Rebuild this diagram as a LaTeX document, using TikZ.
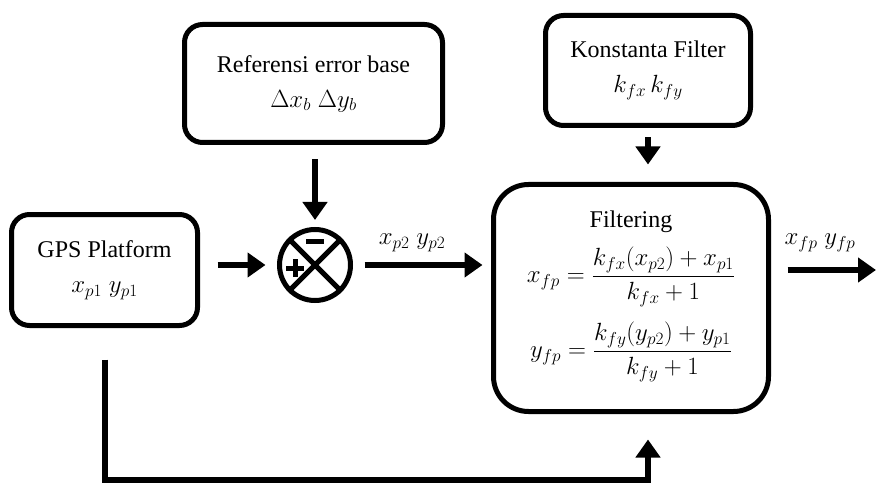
\documentclass[tikz,border=0pt]{standalone}
\usepackage{fontspec}
\setmainfont{Liberation Serif}
\usetikzlibrary{arrows.meta,calc}
\begin{document}
\begin{tikzpicture}[x=1pt,y=-1pt,
  box/.style={draw,line width=5pt,rounded corners=18pt,align=center,font=\fontsize{24}{35}\selectfont,inner sep=0pt},
  arr/.style={line width=6pt,-{Triangle[length=18pt,width=24pt]}},
  lbl/.style={font=\fontsize{24}{28}\selectfont,inner sep=0pt},
  signline/.style={line width=5pt}]
\useasboundingbox[fill=white] (0,0) rectangle (876,484);

\node[box,minimum width=186pt,minimum height=111pt] (gps) at (104.5,270) {GPS Platform\\$x_{p1}\;y_{p1}$};
\node[box,minimum width=258pt,minimum height=118pt] (ref) at (313.5,83.5) {Referensi error base\\$\Delta x_{b}\;\Delta y_{b}$};
\node[box,minimum width=205pt,minimum height=110pt] (kon) at (648,70.5) {Konstanta Filter\\$k_{fx}\,k_{fy}$};
\node[box,rounded corners=35pt,minimum width=275pt,minimum height=227pt] (filt) at (631,298) {};
\node[lbl] (ftitle) at (631,222) {Filtering};
\node[lbl] (eqx) at (631,277) {$\displaystyle x_{fp}=\frac{k_{fx}(x_{p2})+x_{p1}}{k_{fx}+1}$};
\node[lbl] (eqy) at (631,352) {$\displaystyle y_{fp}=\frac{k_{fy}(y_{p2})+y_{p1}}{k_{fy}+1}$};

\node[draw,circle,line width=5pt,minimum size=71pt,inner sep=0pt] (sum) at (315,265) {};
\draw[signline] (sum.north west) -- (sum.south east);
\draw[signline] (sum.north east) -- (sum.south west);
\draw[signline] ($(sum.center)+(-9,-24)$) -- ($(sum.center)+(9,-24)$);
\draw[signline] ($(sum.center)+(-29,3)$) -- ($(sum.center)+(-11,3)$);
\draw[signline] ($(sum.center)+(-20,-6)$) -- ($(sum.center)+(-20,12)$);

\node[lbl] (lp2) at (412,243) {$x_{p2}\;y_{p2}$};
\node[lbl] (lfp) at (820,243) {$x_{fp}\;y_{fp}$};

\draw[arr,shorten <=17.5pt,shorten >=11.5pt] (gps.east |- sum.west) -- (sum.west);
\draw[arr,shorten <=14.5pt,shorten >=7pt] (sum.north |- ref.south) -- (sum.north);
\draw[arr,shorten <=11.5pt,shorten >=8.5pt] (sum.east) -- (sum.east -| filt.west);
\draw[arr,shorten <=9.5pt,shorten >=17.5pt] (kon.south) -- (kon.south |- filt.north);
\coordinate (out) at (876,270);
\draw[arr,shorten <=16.5pt] (filt.east |- out) -- (out);
\coordinate (fbc) at (648,480);
\draw[arr,shorten <=31.5pt,shorten >=25.5pt] (gps.south) |- (fbc) -- (fbc |- filt.south);
\end{tikzpicture}
\end{document}
